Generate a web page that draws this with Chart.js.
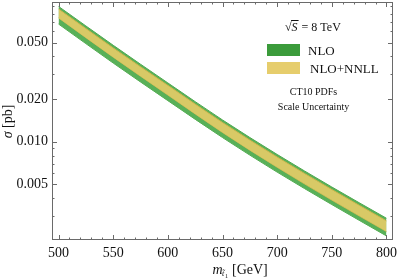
<!DOCTYPE html>
<html>
<head>
<meta charset="utf-8">
<script src="https://cdn.jsdelivr.net/npm/chart.js@4"></script>
<style>
  body { margin: 0; background: #fff; }
</style>
</head>
<body>
<canvas id="xsec" width="398" height="278"></canvas>
<script>
// stop mass [GeV] and cross section band edges [pb]
const masses = [500, 550, 600, 650, 700, 750, 800];
const nloUpper = [0.0900, 0.0479, 0.0260, 0.01425, 0.00814, 0.00480, 0.00289];
const nloLower = [0.0676, 0.0359, 0.0195, 0.01071, 0.00611, 0.00361, 0.00217];
const nnllUpper = [0.0864, 0.0459, 0.0250, 0.01368, 0.00781, 0.00461, 0.00277];
const nnllLower = [0.0747, 0.0395, 0.02136, 0.01163, 0.00661, 0.00388, 0.00233];

const xTicks = [500, 550, 600, 650, 700, 750, 800];
const xMinor = [];
for (let m = 500; m <= 800; m += 10) if (m % 50 !== 0) xMinor.push(m);
const yTicks = [0.005, 0.01, 0.02, 0.05];
const yTickLabels = ["0.005", "0.010", "0.020", "0.050"];
const yMinor = [0.003, 0.004, 0.006, 0.007, 0.008, 0.009, 0.03, 0.04, 0.06, 0.07, 0.08, 0.09];

const serif = "'Liberation Serif', 'DejaVu Serif', serif";

function pts(ys) {
    return masses.map((m, i) => ({ x: m, y: ys[i] }));
}

// frame, inward ticks, axis titles and the legend box
const decorations = {
    id: "decorations",
    afterDraw(chart) {
        const ctx = chart.ctx;
        const a = chart.chartArea;
        const xs = chart.scales.x;
        const ys = chart.scales.y;
        ctx.save();
        ctx.strokeStyle = "#6a6a6a";
        ctx.lineWidth = 1;
        ctx.strokeRect(a.left + 0.5, a.top + 0.5, a.right - a.left - 1, a.bottom - a.top - 1);

        ctx.beginPath();
        const xMark = (v, len) => {
            const px = Math.round(xs.getPixelForValue(v)) + 0.5;
            ctx.moveTo(px, a.bottom); ctx.lineTo(px, a.bottom - len);
            ctx.moveTo(px, a.top); ctx.lineTo(px, a.top + len);
        };
        const yMark = (v, len) => {
            const py = Math.round(ys.getPixelForValue(v)) + 0.5;
            ctx.moveTo(a.left, py); ctx.lineTo(a.left + len, py);
            ctx.moveTo(a.right, py); ctx.lineTo(a.right - len, py);
        };
        xTicks.forEach(v => xMark(v, 5));
        xMinor.forEach(v => xMark(v, 2.5));
        yTicks.forEach(v => yMark(v, 5));
        yMinor.forEach(v => yMark(v, 2.5));
        ctx.stroke();

        ctx.fillStyle = "#111";
        ctx.textBaseline = "alphabetic";
        ctx.textAlign = "left";

        // x title: m_{t~1} [GeV]
        ctx.font = "italic 14px " + serif;
        ctx.fillText("m", 212.5, 274);
        ctx.font = "italic 8px " + serif;
        ctx.fillText("t\u0303", 222, 276);
        ctx.font = "6px " + serif;
        ctx.fillText("1", 225, 278);
        ctx.font = "14px " + serif;
        ctx.fillText("[GeV]", 232, 274);

        // y title: sigma [pb]
        ctx.save();
        ctx.translate(12, 121.5);
        ctx.rotate(-Math.PI / 2);
        ctx.font = "italic 14px " + serif;
        const sw = ctx.measureText("\u03c3 ").width;
        ctx.font = "14px " + serif;
        const pw = ctx.measureText("[pb]").width;
        const x0 = -(sw + pw) / 2;
        ctx.font = "italic 14px " + serif;
        ctx.fillText("\u03c3", x0, 0);
        ctx.font = "14px " + serif;
        ctx.fillText("[pb]", x0 + sw, 0);
        ctx.restore();

        // sqrt(S) = 8 TeV
        ctx.font = "12px " + serif;
        ctx.fillText("\u221a", 285, 31);
        const rw = ctx.measureText("\u221a").width;
        ctx.font = "italic 12px " + serif;
        ctx.fillText("S", 285 + rw, 31);
        const ssw = ctx.measureText("S").width;
        ctx.beginPath();
        ctx.strokeStyle = "#111";
        ctx.moveTo(285 + rw - 0.5, 20.5); ctx.lineTo(285 + rw + ssw + 1, 20.5);
        ctx.stroke();
        ctx.font = "12px " + serif;
        ctx.fillText(" = 8 TeV", 285 + rw + ssw + 1, 31);

        // legend entries
        ctx.fillStyle = "#3b9b3b";
        ctx.fillRect(267, 44, 33, 12);
        ctx.fillStyle = "#e6cd6c";
        ctx.fillRect(267, 62, 33, 12);
        ctx.fillStyle = "#111";
        ctx.font = "13px " + serif;
        ctx.fillText("NLO", 308, 54.5);
        ctx.fillText("NLO+NNLL", 310, 73);

        ctx.textAlign = "center";
        ctx.font = "10px " + serif;
        ctx.fillText("CT10 PDFs", 313.5, 95);
        ctx.fillText("Scale Uncertainty", 313.5, 109.5);
        ctx.restore();
    }
};

const bandLine = {
    pointRadius: 0,
    borderWidth: 1,
    cubicInterpolationMode: "monotone"
};

new Chart(document.getElementById("xsec"), {
    type: "line",
    data: {
        datasets: [
            { ...bandLine, label: "NLO", data: pts(nloUpper), borderColor: "#4ea84e", backgroundColor: "#58b058", fill: "+1", order: 2 },
            { ...bandLine, label: "NLO low", data: pts(nloLower), borderColor: "#4ea84e", fill: false, order: 2 },
            { ...bandLine, label: "NLO+NNLL", data: pts(nnllUpper), borderColor: "#cbb64a", backgroundColor: "#d8c966", fill: "+1", order: 1 },
            { ...bandLine, label: "NLO+NNLL low", data: pts(nnllLower), borderColor: "#cbb64a", fill: false, order: 1 }
        ]
    },
    options: {
        responsive: false,
        devicePixelRatio: 1,
        animation: false,
        layout: { padding: { top: 2, right: 5, left: 0, bottom: 0 } },
        plugins: {
            legend: { display: false },
            tooltip: { enabled: false }
        },
        scales: {
            x: {
                type: "linear",
                min: 494,
                max: 806,
                grid: { display: false, drawTicks: false },
                border: { display: false },
                afterBuildTicks: s => { s.ticks = xTicks.map(v => ({ value: v })); },
                afterFit: s => { s.height = 38; s.paddingLeft = 0; s.paddingRight = 0; },
                ticks: {
                    padding: 5,
                    color: "#111",
                    autoSkip: false,
                    maxRotation: 0,
                    font: { family: serif, size: 14 },
                    callback: v => String(v)
                }
            },
            y: {
                type: "logarithmic",
                min: 0.00203,
                max: 0.0967,
                grid: { display: false, drawTicks: false },
                border: { display: false },
                afterBuildTicks: s => { s.ticks = yTicks.map(v => ({ value: v })); },
                afterFit: s => { s.width = 52; s.paddingTop = 0; s.paddingBottom = 0; },
                ticks: {
                    padding: 4,
                    color: "#111",
                    autoSkip: false,
                    font: { family: serif, size: 14 },
                    callback: (v, i) => yTickLabels[i]
                }
            }
        }
    },
    plugins: [decorations]
});
</script>
</body>
</html>
